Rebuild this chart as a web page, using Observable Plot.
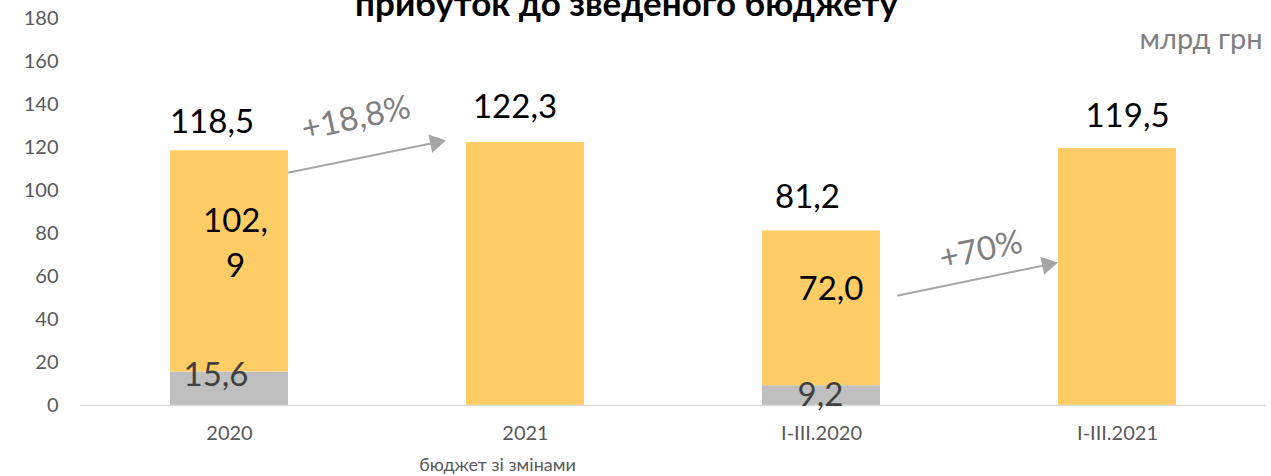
<!DOCTYPE html>
<html>
<head>
<meta charset="utf-8">
<script src="https://cdn.jsdelivr.net/npm/d3@7"></script>
<script src="https://cdn.jsdelivr.net/npm/@observablehq/plot@0.6"></script>
<style>
  html, body { margin: 0; padding: 0; background: white; }
  #wrap { position: relative; width: 1271px; height: 476px; overflow: hidden; }
  #title { position: absolute; left: 0; width: 1253px; text-align: center; top: -13px;
           font-family: Lato, sans-serif; font-weight: bold; font-size: 35px; line-height: 30px; color: #000; }
</style>
</head>
<body>
<div id="wrap"><div id="title">прибуток до зведеного бюджету</div></div>
<script>
const categories = ["2020", "2021", "I-III.2020", "I-III.2021"];
const seriesNames = ["інше", "основне"];
const grayValues = [15.6, 0, 9.2, 0];
const yellowValues = [102.9, 122.3, 72.0, 119.5];
const totals = [118.5, 122.3, 81.2, 119.5];
const innerLabels = ["102,\n9", "", "72,0", ""];
const grayLabels = ["15,6", "", "9,2", ""];
const yTicks = [0, 20, 40, 60, 80, 100, 120, 140, 160, 180];
const growthLabels = ["+18,8%", "+70%"];
const unitLabel = "млрд грн";
const subLabel = "бюджет зі змінами";

// label placement offsets (pixels), per category
const totalOffsets = [[-17.5, -28], [-10.5, -35.5], [-14, -33.5], [10, -32.5]];
const innerOffsets = [[6, -21], null, [9.5, -23], null];
const grayOffsets = [[-13.5, -13], null, [-1, 0], null];

const fmt = v => d3.format(".1f")(v).replace(".", ",");

const rows = [];
categories.forEach((c, i) => {
  rows.push({cat: c, series: seriesNames[0], value: grayValues[i]});
  rows.push({cat: c, series: seriesNames[1], value: yellowValues[i]});
});

const labelMarks = [];
categories.forEach((c, i) => {
  const [tdx, tdy] = totalOffsets[i];
  labelMarks.push(Plot.text([{cat: c, v: totals[i]}], {x: "cat", y: "v", text: d => fmt(d.v), dx: tdx, dy: tdy, fontSize: 33, fill: "#000"}));
  if (innerLabels[i]) {
    const [idx, idy] = innerOffsets[i];
    labelMarks.push(Plot.text([{cat: c, v: grayValues[i] + yellowValues[i] / 2, t: innerLabels[i]}], {x: "cat", y: "v", text: "t", dx: idx, dy: idy, fontSize: 33, fill: "#000", lineHeight: 1.35}));
  }
  if (grayLabels[i]) {
    const [gdx, gdy] = grayOffsets[i];
    labelMarks.push(Plot.text([{cat: c, v: grayValues[i] / 2, t: grayLabels[i]}], {x: "cat", y: "v", text: "t", dx: gdx, dy: gdy, fontSize: 33, fill: "#404040"}));
  }
});

const chart = Plot.plot({
  width: 1271,
  height: 476,
  marginTop: 18,
  marginBottom: 71,
  marginLeft: 80,
  marginRight: 5,
  style: {fontFamily: "Lato, sans-serif", fontSize: "20px", color: "#595959", background: "white", overflow: "visible"},
  x: {domain: categories, paddingInner: 0.6, paddingOuter: 0.3, label: null, tickSize: 0, tickPadding: 20},
  y: {domain: [0, 180], ticks: yTicks, tickFormat: d => String(d), label: null, tickSize: 0, tickPadding: 22},
  color: {domain: seriesNames, range: ["#bfbfbf", "#ffcc66"]},
  marks: [
    Plot.barY(rows, {x: "cat", y: "value", fill: "series", order: seriesNames}),
    Plot.ruleY([0], {stroke: "#d9d9d9", strokeWidth: 1.5}),
    ...labelMarks,
    // growth arrows
    Plot.arrow([{x1: "2020", y1: 102.7, x2: "2021", y2: 130.8}], {x1: "x1", y1: "y1", x2: "x2", y2: "y2", stroke: "#a6a6a6", strokeWidth: 2, headLength: 0, insetStart: 60.7, insetEnd: 89}),
    Plot.dot([{x: "2021", y: 122.3}], {x: "x", y: "y", symbol: "triangle", r: 6.9, fill: "#a6a6a6", stroke: null, rotate: 78.5, dx: -90}),
    Plot.arrow([{x1: "I-III.2020", y1: 43.8, x2: "I-III.2021", y2: 72.2}], {x1: "x1", y1: "y1", x2: "x2", y2: "y2", stroke: "#a6a6a6", strokeWidth: 2, headLength: 0, insetStart: 78.1, insetEnd: 68.5}),
    Plot.dot([{x: "I-III.2021", y: 65.5}], {x: "x", y: "y", symbol: "triangle", r: 6.9, fill: "#a6a6a6", stroke: null, rotate: 78.3, dx: -70}),
    Plot.text([{x: "2020", y: 133.5, t: growthLabels[0]}], {x: "x", y: "y", text: "t", dx: 126.5, rotate: -12, fontSize: 33, fill: "#7f7f7f"}),
    Plot.text([{x: "I-III.2020", y: 72.1, t: growthLabels[1]}], {x: "x", y: "y", text: "t", dx: 159.5, rotate: -12, fontSize: 33, fill: "#7f7f7f"}),
    // unit label
    Plot.text([unitLabel], {frameAnchor: "top-right", text: d => d, dx: -4, dy: 10, fontSize: 29, fill: "#7f7f7f", textAnchor: "end"}),
    // sub label under 2021
    Plot.text([{x: "2021", t: subLabel}], {x: "x", y: () => 0, text: "t", dx: -28, dy: 60, fontSize: 18, fill: "#595959"})
  ]
});
document.getElementById("wrap").insertBefore(chart, document.getElementById("title"));
</script>
</body>
</html>
